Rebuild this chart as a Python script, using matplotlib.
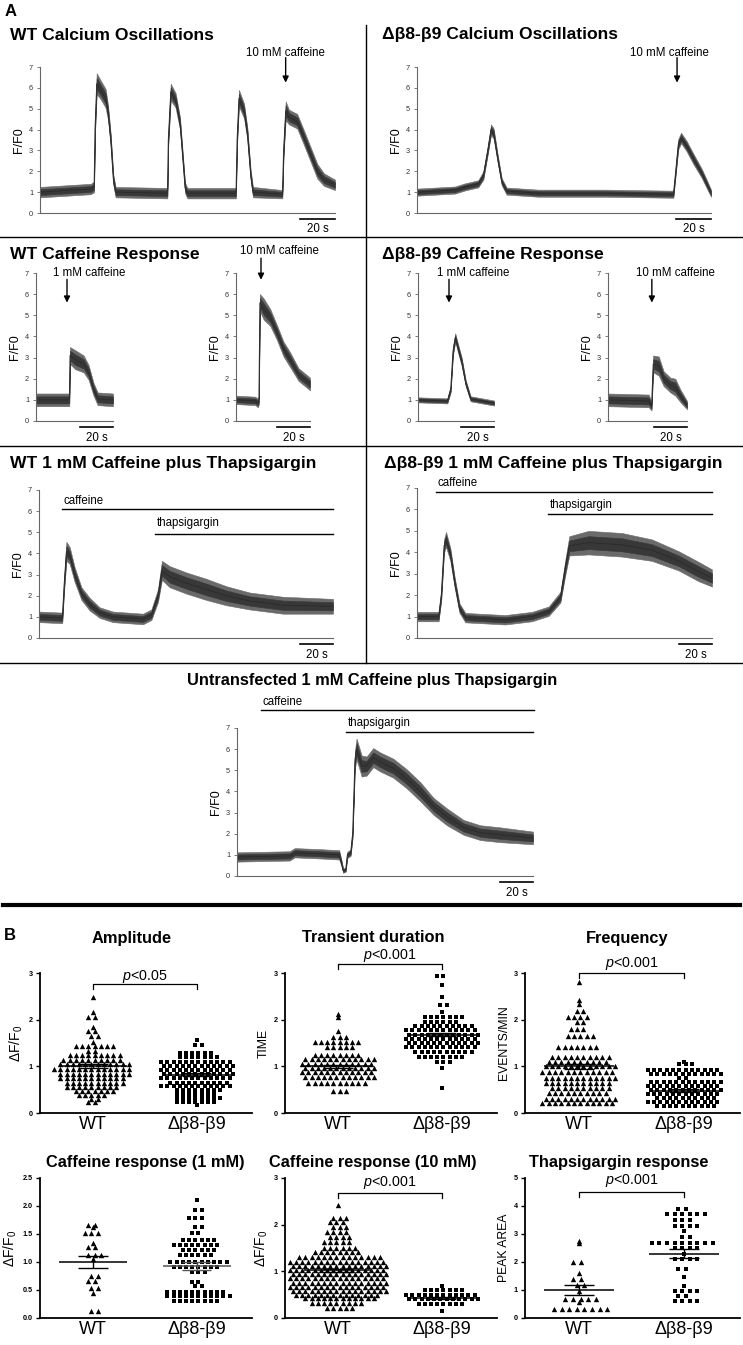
import numpy as np
import matplotlib
matplotlib.use('Agg')
import matplotlib.pyplot as plt
from matplotlib.lines import Line2D

plt.rcParams['font.family'] = ['Liberation Sans', 'DejaVu Sans']
plt.rcParams['mathtext.fontset'] = 'custom'
plt.rcParams['mathtext.rm'] = 'Liberation Sans'
plt.rcParams['mathtext.it'] = 'Liberation Sans:italic'

W, H = 743, 1345

# ---------------- panel A traces: time (s), F/F0 level, noise half-width ----------------
wt_osc_t = [0, 29.0, 30.9, 31.4, 32.4, 34.7, 37.5, 38.9, 40.4, 41.9, 43.2, 72.8, 73.3, 74.7, 77.5, 80.0,
            81.7, 82.9, 84.2, 112.0, 112.6, 113.7, 116.6, 118.5, 120.4, 121.7, 138.5, 139.2, 140.4,
            142.3, 147.0, 150.9, 154.7, 158.5, 162.3, 168.6]
wt_osc_v = [1.0, 1.15, 1.25, 4.0, 6.2, 5.9, 5.5, 4.8, 3.5, 1.6, 1.0, 0.95, 3.5, 5.8, 5.4, 4.3,
            2.5, 1.2, 0.95, 0.95, 3.5, 5.5, 4.9, 3.8, 1.8, 1.0, 0.9, 3.0, 4.9,
            4.6, 4.4, 3.6, 2.8, 2.0, 1.6, 1.35]
wt_osc_s = [0.25, 0.25, 0.25, 0.3, 0.5, 0.45, 0.45, 0.35, 0.3, 0.25, 0.25, 0.25, 0.3, 0.4, 0.35, 0.3,
            0.25, 0.25, 0.25, 0.25, 0.3, 0.4, 0.35, 0.3, 0.25, 0.25, 0.2, 0.3, 0.45,
            0.35, 0.35, 0.35, 0.35, 0.35, 0.3, 0.25]

mut_osc_t = [0, 21.7, 27.4, 35.0, 37.9, 40.4, 42.3, 43.8, 46.1, 48.4, 51.2, 69.3, 107.4, 146.5,
             147.8, 149.3, 150.9, 154.1, 157.9, 162.7, 165.5, 168.0]
mut_osc_v = [1.0, 1.1, 1.25, 1.4, 1.8, 3.0, 4.0, 3.8, 2.6, 1.5, 1.05, 0.95, 0.95, 0.9,
             2.0, 3.3, 3.6, 3.2, 2.6, 1.9, 1.4, 0.95]
mut_osc_s = [0.17, 0.17, 0.17, 0.17, 0.2, 0.2, 0.25, 0.25, 0.2, 0.17, 0.17, 0.17, 0.17, 0.17,
             0.2, 0.25, 0.25, 0.25, 0.25, 0.22, 0.2, 0.17]

wt_caf1_t = [0, 19.8, 20.2, 20.6, 23.8, 28.9, 31.9, 34.9, 37.4, 46.7]
wt_caf1_v = [1.0, 1.0, 1.0, 3.1, 2.9, 2.7, 2.3, 1.5, 1.05, 1.0]
wt_caf1_s = [0.3, 0.3, 0.3, 0.4, 0.45, 0.4, 0.35, 0.3, 0.3, 0.3]

wt_caf10_t = [0, 11.7, 13.3, 13.9, 14.5, 16.8, 20.8, 24.8, 28.9, 32.9, 38.0, 45.0]
wt_caf10_v = [1.0, 0.95, 0.85, 1.0, 5.6, 5.3, 4.9, 4.2, 3.4, 2.9, 2.2, 1.75]
wt_caf10_s = [0.2, 0.2, 0.2, 0.2, 0.4, 0.5, 0.4, 0.35, 0.35, 0.35, 0.3, 0.3]

mut_caf1_t = [0, 17.8, 19.8, 21.2, 22.6, 24.4, 26.5, 28.9, 31.9, 46.1]
mut_caf1_v = [1.0, 0.95, 1.5, 3.3, 3.95, 3.4, 2.8, 1.8, 1.05, 0.85]
mut_caf1_s = [0.12, 0.12, 0.15, 0.2, 0.2, 0.2, 0.2, 0.15, 0.12, 0.12]

mut_caf10_t = [0, 24.8, 26.5, 27.5, 30.9, 33.9, 38.0, 41.0, 44.0, 48.1]
mut_caf10_v = [1.0, 0.95, 0.7, 2.7, 2.6, 2.0, 1.7, 1.6, 1.2, 0.75]
mut_caf10_s = [0.3, 0.3, 0.2, 0.4, 0.45, 0.35, 0.35, 0.4, 0.3, 0.2]

wt_tg_t = [0, 14.1, 15.2, 16.6, 18.6, 21.6, 25.7, 30.7, 36.8, 44.8, 63.0, 68.1, 72.1, 74.5,
           79.2, 89.3, 101.4, 113.5, 127.7, 147.9, 178.2]
wt_tg_v = [1.0, 0.95, 2.5, 4.1, 3.9, 3.0, 2.1, 1.6, 1.2, 1.0, 0.9, 1.1, 2.0, 3.2,
           2.9, 2.6, 2.3, 2.0, 1.75, 1.55, 1.5]
wt_tg_s = [0.25, 0.25, 0.3, 0.45, 0.4, 0.35, 0.3, 0.3, 0.25, 0.25, 0.25, 0.25, 0.3, 0.45,
           0.5, 0.5, 0.5, 0.45, 0.4, 0.4, 0.35]

mut_tg_t = [0, 13.1, 14.7, 16.4, 17.6, 20.2, 22.8, 25.7, 29.3, 53.5, 69.7, 79.8, 86.9, 89.9,
            92.3, 104.0, 124.2, 142.4, 158.6, 170.7, 178.8]
mut_tg_v = [1.0, 1.0, 2.0, 4.3, 4.6, 3.9, 2.6, 1.4, 0.95, 0.85, 1.0, 1.25, 1.9, 3.3,
            4.3, 4.45, 4.35, 4.1, 3.6, 3.1, 2.8]
mut_tg_s = [0.22, 0.22, 0.25, 0.3, 0.35, 0.3, 0.25, 0.22, 0.22, 0.22, 0.22, 0.22, 0.25, 0.35,
            0.45, 0.55, 0.55, 0.5, 0.45, 0.45, 0.4]

un_tg_t = [0, 31.9, 34.9, 50.1, 61.8, 63.2, 64.2, 65.7, 66.7, 68.7, 69.9, 71.3, 72.3, 75.4,
           78.4, 82.4, 86.5, 94.5, 102.6, 110.7, 118.8, 126.9, 137.0, 147.1, 159.2, 179.0]
un_tg_v = [0.9, 0.95, 1.1, 1.05, 1.0, 0.6, 0.25, 0.3, 1.0, 1.1, 2.0, 5.5, 6.0, 5.2,
           5.2, 5.6, 5.4, 5.1, 4.6, 4.0, 3.3, 2.8, 2.3, 2.05, 1.95, 1.8]
un_tg_s = [0.22, 0.22, 0.22, 0.22, 0.22, 0.15, 0.1, 0.1, 0.15, 0.15, 0.2, 0.4, 0.5, 0.5,
           0.45, 0.45, 0.45, 0.45, 0.45, 0.45, 0.4, 0.4, 0.35, 0.35, 0.35, 0.3]

# ---------------- panel B: rows of points (value level, number of points) ----------------
amp_wt_lv = [2.48, 2.16, 2.05, 1.85, 1.75, 1.66, 1.52, 1.44, 1.32, 1.24, 1.14, 1.04, 0.94, 0.84,
             0.74, 0.64, 0.56, 0.47, 0.39, 0.31, 0.23]
amp_wt_n = [1, 1, 2, 1, 2, 2, 1, 7, 2, 9, 10, 12, 13, 12, 11, 10, 9, 7, 5, 2, 2]
amp_mut_lv = [1.56, 1.46, 1.29, 1.20, 1.10, 1.01, 0.92, 0.83, 0.74, 0.65, 0.57, 0.49, 0.41,
              0.32, 0.24, 0.18]
amp_mut_n = [1, 2, 6, 7, 12, 12, 12, 12, 12, 10, 12, 8, 7, 8, 7, 1]

dur_wt_lv = [2.12, 2.05, 1.75, 1.62, 1.52, 1.42, 1.25, 1.15, 1.06, 0.97, 0.88, 0.78, 0.65, 0.48]
dur_wt_n = [1, 1, 1, 3, 8, 5, 8, 12, 12, 12, 12, 12, 10, 3]
dur_mut_lv = [2.93, 2.74, 2.49, 2.31, 2.16, 2.06, 1.96, 1.86, 1.77, 1.68, 1.59, 1.50, 1.41,
              1.31, 1.21, 1.09, 0.97, 0.54]
dur_mut_n = [2, 1, 1, 2, 1, 7, 6, 10, 12, 12, 12, 12, 12, 10, 8, 3, 1, 1]

frq_wt_lv = [2.80, 2.43, 2.33, 2.18, 2.05, 1.95, 1.80, 1.65, 1.42, 1.21, 1.10, 1.00, 0.88,
             0.76, 0.64, 0.53, 0.42, 0.31, 0.21]
frq_wt_n = [1, 1, 1, 2, 4, 2, 3, 5, 7, 10, 10, 12, 12, 12, 11, 10, 10, 12, 12]
frq_mut_lv = [1.10, 1.04, 0.93, 0.84, 0.75, 0.66, 0.57, 0.49, 0.41, 0.32, 0.23, 0.15]
frq_mut_n = [1, 3, 12, 12, 2, 12, 12, 12, 12, 10, 12, 10]

c1_wt_lv = [1.66, 1.62, 1.52, 1.34, 1.27, 1.12, 1.06, 0.75, 0.66, 0.53, 0.45, 0.12]
c1_wt_n = [2, 1, 3, 1, 2, 3, 1, 2, 2, 2, 1, 2]
c1_mut_lv = [2.10, 1.93, 1.78, 1.63, 1.52, 1.40, 1.31, 1.22, 1.12, 1.00, 0.91, 0.82, 0.65,
             0.57, 0.47, 0.39, 0.31]
c1_mut_n = [1, 2, 3, 2, 2, 6, 8, 6, 6, 10, 8, 3, 2, 2, 10, 11, 8]

c10_wt_lv = [2.43, 2.15, 2.06, 1.96, 1.85, 1.74, 1.62, 1.51, 1.41, 1.31, 1.21, 1.12, 1.03, 0.94,
             0.85, 0.76, 0.67, 0.58, 0.50, 0.42, 0.32, 0.22]
c10_wt_n = [1, 3, 3, 3, 4, 4, 5, 6, 8, 14, 16, 16, 16, 16, 16, 16, 16, 16, 14, 12, 9, 5]
c10_mut_lv = [0.69, 0.61, 0.50, 0.40, 0.29, 0.15]
c10_mut_n = [1, 7, 12, 12, 8, 1]

tg_wt_lv = [2.75, 2.68, 2.00, 1.60, 1.40, 1.18, 0.97, 0.68, 0.56, 0.32]
tg_wt_n = [1, 1, 2, 1, 2, 2, 1, 5, 1, 8]
tg_mut_lv = [3.90, 3.70, 3.50, 3.30, 3.10, 2.90, 2.68, 2.50, 2.30, 2.10, 1.75, 1.45,
             1.15, 0.97, 0.80, 0.60]
tg_mut_n = [2, 6, 3, 4, 1, 2, 9, 4, 1, 4, 2, 1, 1, 4, 2, 4]

# mean, sem for (WT, mutant)
amp_stats = [(1.00, 0.04), (0.82, 0.03)]
dur_stats = [(1.00, 0.03), (1.68, 0.04)]
frq_stats = [(1.00, 0.06), (0.48, 0.03)]
c1_stats = [(1.00, 0.11), (0.93, 0.07)]
c10_stats = [(1.02, 0.03), (0.42, 0.02)]
tg_stats = [(1.00, 0.17), (2.30, 0.15)]

groups = ['WT', 'Δβ8-β9']

fig = plt.figure(figsize=(W / 100, H / 100), dpi=100)


def px_axes(x0, x1, y_top, y_bot):
    return fig.add_axes([x0 / W, 1 - y_bot / H, (x1 - x0) / W, (y_bot - y_top) / H])


def ftext(x, y, s, **kw):
    fig.text(x / W, 1 - y / H, s, **kw)


def fline(x0, x1, y0, y1, lw=1.0):
    fig.add_artist(Line2D([x0 / W, x1 / W], [1 - y0 / H, 1 - y1 / H], color='k', lw=lw,
                          transform=fig.transFigure))


def trace_ax(x0, x1, y_top, y_bot, t, v, s, xmax):
    ax = px_axes(x0, x1, y_top, y_bot)
    t = np.array(t); v = np.array(v); s = np.array(s)
    ax.fill_between(t, v - s, v + s, color='#6a6a6a', lw=0.4)
    ax.fill_between(t, v - 0.55 * s, v + 0.55 * s, color='#383838', lw=0.4)
    ax.plot(t, v, color='#2a2a2a', lw=0.6)
    ax.set_xlim(0, xmax)
    ax.set_ylim(0, 7)
    ax.set_yticks(range(8))
    ax.set_xticks([])
    for sp in ['top', 'right']:
        ax.spines[sp].set_visible(False)
    for sp in ['left', 'bottom']:
        ax.spines[sp].set_color('#666666')
        ax.spines[sp].set_linewidth(0.8)
    ax.tick_params(axis='y', length=2, width=0.6, colors='#666666', labelsize=5.3, pad=3,
                   labelcolor='#333333')
    ax.set_ylabel('F/F0', fontsize=9, labelpad=3)
    # 20 s scale bar
    ax.plot([xmax - 20, xmax], [-0.3, -0.3], color='k', lw=1.2, clip_on=False)
    ax.text(xmax - 10, -0.5, '20 s', ha='center', va='top', fontsize=8.3)
    return ax


def arrow(ax, x, tip, tail, label, lx, ly):
    ax.annotate('', xy=(x, tip), xytext=(x, tail), annotation_clip=False,
                arrowprops=dict(arrowstyle='-|>', color='k', lw=1.0, mutation_scale=9,
                                shrinkA=0, shrinkB=0))
    ax.text(lx, ly, label, ha='center', va='center', fontsize=8.3, clip_on=False)


def drug_bar(ax, x0, x1, y, label, ly):
    ax.plot([x0, x1], [y, y], color='k', lw=1.0, clip_on=False)
    ax.text(x0 + 1, ly, label, ha='left', va='center', fontsize=8.3, clip_on=False)


def rows_xy(levels, counts, center, step):
    # each row spread sideways; alternate rows nudged a quarter step to stagger them
    xs, ys = [], []
    for k, (lv, n) in enumerate(zip(levels, counts)):
        nudge = 0.25 * step * (1 if k % 2 else -1) if n > 1 else 0
        off = (np.arange(n) - (n - 1) / 2) * step + nudge
        xs.extend(center + off)
        ys.extend([lv] * n)
    return xs, ys


def dot_ax(x0, x1, y_top, y_bot, ymax, yticks, ytl, ylabel, ylsize, wt, mut, stats, step,
           pbar=None, mean_col=('k', 'k')):
    ax = px_axes(x0, x1, y_top, y_bot)
    xw, yw = rows_xy(wt[0], wt[1], 0, step)
    xm, ym = rows_xy(mut[0], mut[1], 1, step)
    ax.scatter(xw, yw, marker='^', s=15, color='k', lw=0, zorder=2)
    ax.scatter(xm, ym, marker='s', s=12, color='k', lw=0, zorder=2)
    for i, (m, e) in enumerate(stats):
        c = mean_col[i]
        ax.hlines(m, i - 0.33, i + 0.33, color=c, lw=1.1, zorder=3)
        ax.hlines([m - e, m + e], i - 0.14, i + 0.14, color=c, lw=1.0, zorder=3)
        ax.vlines(i, m - e, m + e, color=c, lw=1.0, zorder=3)
    ax.set_xlim(-0.51, 1.53)
    ax.set_ylim(0, ymax)
    ax.set_yticks(yticks)
    ax.set_yticklabels(ytl, fontsize=5.2, fontweight='bold')
    ax.set_xticks([0, 1])
    ax.set_xticklabels(groups, fontsize=13)
    ax.tick_params(axis='x', length=0, pad=2)
    ax.tick_params(axis='y', length=3, width=1.0, pad=2)
    for sp in ['top', 'right']:
        ax.spines[sp].set_visible(False)
    for sp in ['left', 'bottom']:
        ax.spines[sp].set_linewidth(1.3)
    ax.set_ylabel(ylabel, fontsize=ylsize, labelpad=3)
    if pbar is not None:
        ytop, ylow, ytxt, label = pbar
        ax.plot([0, 0, 1, 1], [ylow, ytop, ytop, ylow], color='k', lw=0.9, clip_on=False)
        ax.text(0.5, ytxt, label, ha='center', va='center', fontsize=10.3, clip_on=False)
    return ax


# ---------------- panel A ----------------
ftext(11, 12, 'A', fontsize=12, fontweight='bold', ha='center', va='center')
tfs = 12.6

ftext(10, 35, 'WT Calcium Oscillations', fontsize=tfs, fontweight='bold', va='center')
ftext(382, 35, 'Δβ8-β9 Calcium Oscillations', fontsize=tfs, fontweight='bold', va='center')
ax = trace_ax(40, 335, 67, 213, wt_osc_t, wt_osc_v, wt_osc_s, 168.6)
arrow(ax, 140.4, 6.25, 7.45, '10 mM caffeine', 140.4, 7.68)
ax = trace_ax(417, 711, 67, 213, mut_osc_t, mut_osc_v, mut_osc_s, 168.0)
arrow(ax, 148.6, 6.25, 7.45, '10 mM caffeine', 144.0, 7.68)

fline(0, 743, 237, 237)
ftext(10, 255, 'WT Caffeine Response', fontsize=tfs, fontweight='bold', va='center')
ftext(382, 255, 'Δβ8-β9 Caffeine Response', fontsize=tfs, fontweight='bold', va='center')
ax = trace_ax(36, 113, 273, 421, wt_caf1_t, wt_caf1_v, wt_caf1_s, 46.7)
arrow(ax, 18.8, 5.6, 6.7, '1 mM caffeine', 32.0, 7.0)
ax = trace_ax(236, 310, 273, 421, wt_caf10_t, wt_caf10_v, wt_caf10_s, 45.0)
arrow(ax, 15.2, 6.68, 7.7, '10 mM caffeine', 26.7, 8.05)
ax = trace_ax(418, 494, 273, 421, mut_caf1_t, mut_caf1_v, mut_caf1_s, 46.1)
arrow(ax, 18.8, 5.6, 6.7, '1 mM caffeine', 33.3, 7.0)
ax = trace_ax(608, 687, 273, 421, mut_caf10_t, mut_caf10_v, mut_caf10_s, 48.1)
arrow(ax, 26.7, 5.6, 6.7, '10 mM caffeine', 41.2, 7.0)

fline(0, 743, 446, 446)
ftext(10, 463, 'WT 1 mM Caffeine plus Thapsigargin', fontsize=tfs, fontweight='bold', va='center')
ftext(384, 463, 'Δβ8-β9 1 mM Caffeine plus Thapsigargin', fontsize=tfs, fontweight='bold',
      va='center')
ax = trace_ax(39, 333, 490, 638, wt_tg_t, wt_tg_v, wt_tg_s, 178.2)
drug_bar(ax, 13.9, 178.2, 6.1, 'caffeine', 6.5)
drug_bar(ax, 70.3, 178.2, 4.93, 'thapsigargin', 5.45)
ax = trace_ax(417, 712, 488, 638, mut_tg_t, mut_tg_v, mut_tg_s, 178.8)
drug_bar(ax, 11.5, 178.8, 6.82, 'caffeine', 7.24)
drug_bar(ax, 79.4, 178.8, 5.79, 'thapsigargin', 6.21)

fline(0, 743, 663, 663)
fline(366, 366, 25, 663)
ftext(372, 681, 'Untransfected 1 mM Caffeine plus Thapsigargin', fontsize=11.8, fontweight='bold',
      ha='center', va='center')
ax = trace_ax(237, 533, 728, 876, un_tg_t, un_tg_v, un_tg_s, 179.0)
drug_bar(ax, 14.5, 179.5, 7.85, 'caffeine', 8.23)
drug_bar(ax, 66.0, 179.0, 6.81, 'thapsigargin', 7.24)

fline(3, 740, 905, 905, lw=3.0)

# ---------------- panel B ----------------
ftext(10, 936, 'B', fontsize=12, fontweight='bold', ha='center', va='center')
dF = 'ΔF/F$_0$'
top3 = ([0, 1, 2, 3], ['0', '1', '2', '3'])
bfs = 11.8

ftext(132, 938, 'Amplitude', fontsize=bfs, fontweight='bold', ha='center', va='center')
ftext(373, 938, 'Transient duration', fontsize=bfs, fontweight='bold', ha='center', va='center')
ftext(627, 938, 'Frequency', fontsize=bfs, fontweight='bold', ha='center', va='center')
ftext(145, 1163, 'Caffeine response (1 mM)', fontsize=bfs, fontweight='bold', ha='center',
      va='center')
ftext(373, 1163, 'Caffeine response (10 mM)', fontsize=bfs, fontweight='bold', ha='center',
      va='center')
ftext(619, 1163, 'Thapsigargin response', fontsize=bfs, fontweight='bold', ha='center',
      va='center')

dot_ax(40, 252, 973, 1113, 3, *top3, dF, 10, (amp_wt_lv, amp_wt_n), (amp_mut_lv, amp_mut_n),
       amp_stats, 0.06, pbar=(2.76, 2.65, 2.93, '$p$<0.05'))
dot_ax(285, 497, 973, 1113, 3, *top3, 'TIME', 8.8, (dur_wt_lv, dur_wt_n), (dur_mut_lv, dur_mut_n),
       dur_stats, 0.06, pbar=(3.19, 3.08, 3.38, '$p$<0.001'))
dot_ax(525, 740, 973, 1113, 3, *top3, 'EVENTS/MIN', 8.8, (frq_wt_lv, frq_wt_n),
       (frq_mut_lv, frq_mut_n), frq_stats, 0.06, pbar=(3.0, 2.9, 3.2, '$p$<0.001'))

dot_ax(40, 252, 1178, 1318, 2.5, [0, 0.5, 1, 1.5, 2, 2.5], ['0.0', '0.5', '1.0', '1.5', '2.0', '2.5'],
       dF, 10, (c1_wt_lv, c1_wt_n), (c1_mut_lv, c1_mut_n), c1_stats, 0.06,
       mean_col=('k', '#555555'))
dot_ax(285, 497, 1178, 1318, 3, *top3, dF, 10, (c10_wt_lv, c10_wt_n), (c10_mut_lv, c10_mut_n),
       c10_stats, 0.06, pbar=(2.68, 2.57, 2.9, '$p$<0.001'))
dot_ax(525, 740, 1178, 1318, 5, [0, 1, 2, 3, 4, 5], ['0', '1', '2', '3', '4', '5'], 'PEAK AREA', 8.8,
       (tg_wt_lv, tg_wt_n), (tg_mut_lv, tg_mut_n), tg_stats, 0.072,
       pbar=(4.5, 4.32, 4.9, '$p$<0.001'))

fig.savefig('out.png', dpi=100)
